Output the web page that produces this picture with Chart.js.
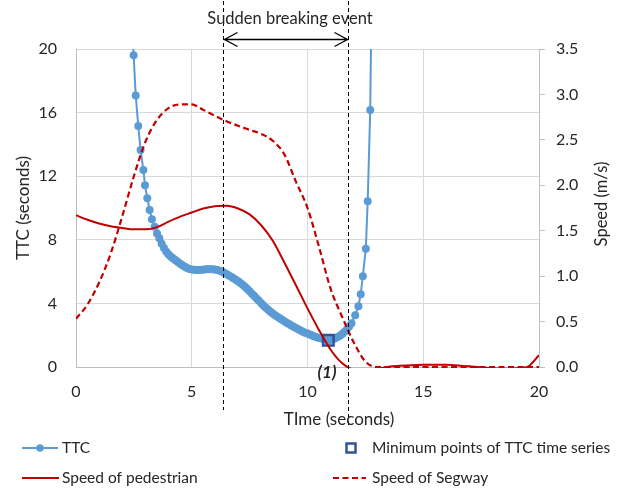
<!DOCTYPE html>
<html>
<head>
<meta charset="utf-8">
<script src="https://cdn.jsdelivr.net/npm/chart.js@4.4.1/dist/chart.umd.min.js"></script>
<style>
  html, body { margin: 0; padding: 0; background: #fff; }
  canvas { display: block; }
</style>
</head>
<body>
<canvas id="ttcChart" width="623" height="491"></canvas>
<script>
// TTC time series (seconds vs seconds)
const ttcTime = [
    2.40, 2.49, 2.58, 2.69, 2.79, 2.91, 2.98, 3.08, 3.18, 3.28, 3.40, 3.50,
    3.6, 3.7, 3.8, 3.9, 4.0, 4.1, 4.2, 4.3, 4.4, 4.5, 4.6, 4.7, 4.8, 4.9,
    5.0, 5.1, 5.2, 5.3, 5.4, 5.5, 5.6, 5.7, 5.8, 5.9,
    6.0, 6.1, 6.2, 6.3, 6.4, 6.5, 6.6, 6.7, 6.8, 6.9,
    7.0, 7.1, 7.2, 7.3, 7.4, 7.5, 7.6, 7.7, 7.8, 7.9,
    8.0, 8.1, 8.2, 8.3, 8.4, 8.5, 8.6, 8.7, 8.8, 8.9,
    9.0, 9.1, 9.2, 9.3, 9.4, 9.5, 9.6, 9.7, 9.8, 9.9,
    10.0, 10.1, 10.2, 10.3, 10.4, 10.5, 10.6, 10.7, 10.8, 10.9,
    11.0, 11.1, 11.2, 11.3, 11.4, 11.5, 11.6, 11.7, 11.8, 11.9,
    12.06, 12.20, 12.30, 12.39, 12.52, 12.60, 12.71, 12.80
];
const ttcValue = [
    22.6, 19.6, 17.08, 15.15, 13.64, 12.39, 11.43, 10.61, 9.87, 9.29, 8.82, 8.40,
    8.10, 7.75, 7.48, 7.25, 7.08, 6.94, 6.82, 6.71, 6.60, 6.50, 6.40, 6.31, 6.23, 6.17,
    6.13, 6.11, 6.10, 6.10, 6.11, 6.12, 6.14, 6.15, 6.15, 6.15,
    6.13, 6.10, 6.06, 6.00, 5.93, 5.85, 5.76, 5.67, 5.58, 5.49,
    5.40, 5.29, 5.17, 5.04, 4.90, 4.76, 4.61, 4.46, 4.31, 4.16,
    4.01, 3.87, 3.73, 3.60, 3.48, 3.37, 3.26, 3.16, 3.06, 2.97,
    2.88, 2.79, 2.70, 2.61, 2.53, 2.45, 2.37, 2.29, 2.22, 2.16,
    2.10, 2.04, 1.98, 1.92, 1.87, 1.83, 1.79, 1.76, 1.71, 1.68,
    1.70, 1.75, 1.81, 1.88, 1.97, 2.08, 2.21, 2.36, 2.54, 2.75,
    3.26, 3.82, 4.58, 5.71, 7.44, 10.42, 16.17, 27.5
];

// lowest TTC reached
const minTime = [10.9];
const minTtc = [1.68];

// speeds (m/s), sampled every half second
const speedTime = [
    0, 0.5, 1, 1.5, 2, 2.5, 3, 3.5, 4, 4.5, 5, 5.5, 6, 6.5, 7, 7.5, 8, 8.5, 9, 9.5,
    10, 10.5, 11, 11.5, 12, 12.5, 13, 13.5, 14, 14.5, 15, 15.5, 16, 16.5, 17, 17.5,
    18, 18.5, 19, 19.5, 20
];
const pedestrianSpeed = [
    1.67, 1.62, 1.58, 1.55, 1.53, 1.515, 1.515, 1.54, 1.60, 1.655, 1.70, 1.745, 1.77, 1.775,
    1.745, 1.68, 1.56, 1.39, 1.15, 0.90, 0.645, 0.405, 0.19, 0.04, -0.03, -0.04, -0.02,
    0.003, 0.013, 0.02, 0.024, 0.026, 0.024, 0.017, 0.007, -0.005, -0.015, -0.02, -0.015,
    0.0, 0.13
];
const segwaySpeed = [
    0.53, 0.69, 0.93, 1.25, 1.66, 2.10, 2.48, 2.72, 2.85, 2.89, 2.89, 2.83, 2.765, 2.705,
    2.655, 2.61, 2.565, 2.49, 2.34, 2.04, 1.75, 1.32, 0.86, 0.55, 0.27, 0.06, 0,
    0, 0, 0, 0, 0, 0, 0, 0, 0, 0, 0, 0, 0, 0
];

// sudden breaking window (s)
const brakeStart = 6.35;
const brakeEnd = 11.77;

const FONT = 'Lato, "Open Sans", sans-serif';
const TEXT = '#262626';
const BLUE = '#5B9BD5';
const NAVY = '#2F5597';
const RED = '#C00000';
const GRID = '#d9d9d9';
const AXIS = '#bfbfbf';

function toPoints(xs, ys) {
    return xs.map((x, i) => ({ x: x, y: ys[i] }));
}

// annotations, axis titles and the two-column legend
const overlayPlugin = {
    id: 'overlay',
    afterDraw(chart) {
        const ctx = chart.ctx;
        const xs = chart.scales.x;
        const x1 = Math.round(xs.getPixelForValue(brakeStart)) + 0.5;
        const x2 = Math.round(xs.getPixelForValue(brakeEnd)) + 0.5;

        ctx.save();
        // event boundaries
        ctx.strokeStyle = '#000';
        ctx.lineWidth = 1;
        ctx.setLineDash([4, 3]);
        ctx.beginPath();
        ctx.moveTo(x1, 1); ctx.lineTo(x1, 410);
        ctx.moveTo(x2, 1); ctx.lineTo(x2, 428);
        ctx.stroke();
        ctx.setLineDash([]);

        // double arrow
        const ay = 39.5;
        ctx.lineWidth = 1.3;
        ctx.beginPath();
        ctx.moveTo(x1, ay); ctx.lineTo(x2, ay);
        ctx.moveTo(x1 + 14, ay - 7); ctx.lineTo(x1 + 1, ay); ctx.lineTo(x1 + 14, ay + 7);
        ctx.moveTo(x2 - 14, ay - 7); ctx.lineTo(x2 - 1, ay); ctx.lineTo(x2 - 14, ay + 7);
        ctx.stroke();

        ctx.fillStyle = TEXT;
        ctx.font = '16.5px ' + FONT;
        ctx.textAlign = 'center';
        ctx.textBaseline = 'alphabetic';
        ctx.fillText('Sudden breaking event', 290, 23.5);

        // axis titles
        ctx.font = '17px ' + FONT;
        ctx.fillText('TIme (seconds)', 339, 425);
        ctx.save();
        ctx.translate(28.5, 208);
        ctx.rotate(-Math.PI / 2);
        ctx.fillText('TTC (seconds)', 0, 0);
        ctx.restore();
        ctx.save();
        ctx.translate(607, 204);
        ctx.rotate(-Math.PI / 2);
        ctx.font = '16.5px ' + FONT;
        ctx.fillText('Speed (m/s)', 0, 0);
        ctx.restore();

        // minimum label
        ctx.font = 'italic bold 17px ' + FONT;
        ctx.fillText('(1)', 327, 378);

        // legend
        const ds = chart.data.datasets;
        ctx.font = '15.5px ' + FONT;
        ctx.textAlign = 'left';
        ctx.textBaseline = 'middle';

        // TTC
        ctx.strokeStyle = ds[0].borderColor;
        ctx.lineWidth = 2;
        ctx.beginPath(); ctx.moveTo(22, 448); ctx.lineTo(58, 448); ctx.stroke();
        ctx.fillStyle = ds[0].pointBackgroundColor;
        ctx.beginPath(); ctx.arc(40, 448, 3.8, 0, Math.PI * 2); ctx.fill();
        ctx.fillStyle = TEXT;
        ctx.fillText(ds[0].label, 62, 448);

        // minimum point
        ctx.strokeStyle = ds[1].pointBorderColor;
        ctx.lineWidth = 2.5;
        ctx.strokeRect(346.5, 443.5, 9, 9);
        ctx.fillText(ds[1].label, 372, 448);

        // pedestrian
        ctx.strokeStyle = ds[2].borderColor;
        ctx.lineWidth = 2;
        ctx.beginPath(); ctx.moveTo(22, 478); ctx.lineTo(59, 478); ctx.stroke();
        ctx.fillText(ds[2].label, 62, 478);

        // segway
        ctx.strokeStyle = ds[3].borderColor;
        ctx.setLineDash(ds[3].borderDash);
        ctx.beginPath(); ctx.moveTo(333, 478); ctx.lineTo(366, 478); ctx.stroke();
        ctx.setLineDash([]);
        ctx.fillText(ds[3].label, 372, 478);

        ctx.restore();
    }
};

const ctx = document.getElementById('ttcChart').getContext('2d');
new Chart(ctx, {
    type: 'line',
    data: {
        datasets: [
            {
                label: 'TTC',
                data: toPoints(ttcTime, ttcValue),
                yAxisID: 'y',
                borderColor: BLUE,
                backgroundColor: BLUE,
                borderWidth: 2,
                pointRadius: 4,
                pointBorderWidth: 0,
                pointBackgroundColor: BLUE,
                tension: 0,
                order: 4
            },
            {
                label: 'Minimum points of TTC time series',
                data: toPoints(minTime, minTtc),
                yAxisID: 'y',
                showLine: false,
                pointStyle: 'rect',
                pointRadius: 7.5,
                pointBorderWidth: 2.5,
                pointBorderColor: NAVY,
                pointBackgroundColor: 'rgba(0,0,0,0)',
                order: 3
            },
            {
                label: 'Speed of pedestrian',
                data: toPoints(speedTime, pedestrianSpeed),
                yAxisID: 'y1',
                borderColor: RED,
                borderWidth: 2,
                pointRadius: 0,
                cubicInterpolationMode: 'monotone',
                clip: { left: 0, top: 0, right: 0, bottom: 1 },
                order: 2
            },
            {
                label: 'Speed of Segway',
                data: toPoints(speedTime, segwaySpeed),
                yAxisID: 'y1',
                borderColor: RED,
                borderWidth: 2.2,
                borderDash: [6, 3.5],
                pointRadius: 0,
                cubicInterpolationMode: 'monotone',
                clip: { left: 0, top: 0, right: 0, bottom: 1 },
                order: 1
            }
        ]
    },
    options: {
        responsive: false,
        animation: false,
        layout: { padding: { left: 0, right: 0, top: 49, bottom: 64 } },
        plugins: {
            legend: { display: false },
            tooltip: { enabled: false }
        },
        scales: {
            x: {
                type: 'linear',
                min: 0,
                max: 20,
                ticks: { stepSize: 5, padding: 15, color: TEXT, font: { family: FONT, size: 16 } },
                grid: { color: GRID, drawTicks: false },
                border: { color: AXIS },
                afterFit: (scale) => { scale.height = 60; }
            },
            y: {
                position: 'left',
                min: 0,
                max: 20,
                ticks: { stepSize: 4, padding: 19, color: TEXT, font: { family: FONT, size: 16 } },
                grid: { color: GRID, drawTicks: false },
                border: { color: AXIS },
                afterFit: (scale) => { scale.width = 76; }
            },
            y1: {
                position: 'right',
                min: 0,
                max: 3.5,
                ticks: {
                    stepSize: 0.5,
                    padding: 11,
                    color: TEXT,
                    font: { family: FONT, size: 16 },
                    callback: (v) => v.toFixed(1)
                },
                grid: { drawOnChartArea: false, drawTicks: true, tickLength: 6, color: AXIS },
                border: { color: AXIS },
                afterFit: (scale) => { scale.width = 84; }
            }
        }
    },
    plugins: [overlayPlugin]
});
</script>
</body>
</html>
